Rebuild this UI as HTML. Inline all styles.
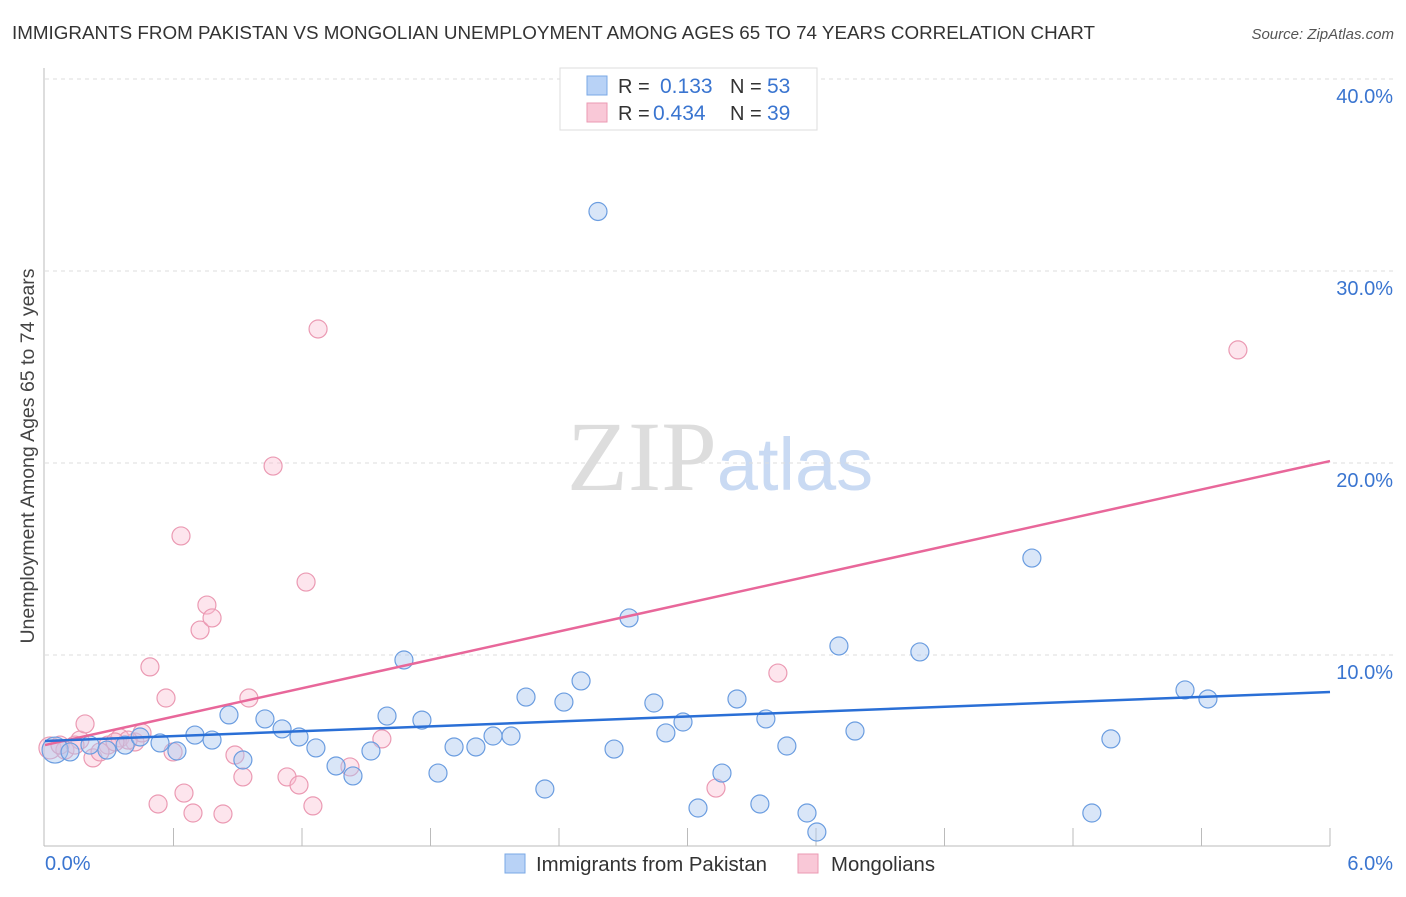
<!DOCTYPE html>
<html><head><meta charset="utf-8"><style>
body{margin:0;background:#fff;font-family:"Liberation Sans",sans-serif;}
svg text{font-family:"Liberation Sans",sans-serif;}
</style></head><body>
<svg id="chart" width="1406" height="892" xmlns="http://www.w3.org/2000/svg">
<text x="12" y="39" font-size="18" fill="#333" textLength="1083" lengthAdjust="spacingAndGlyphs">IMMIGRANTS FROM PAKISTAN VS MONGOLIAN UNEMPLOYMENT AMONG AGES 65 TO 74 YEARS CORRELATION CHART</text>
<text x="1394" y="39" font-size="15" fill="#555" font-style="italic" text-anchor="end">Source: ZipAtlas.com</text>
<text x="720" y="490" font-size="100" text-anchor="middle"><tspan font-family="Liberation Serif" fill="#ddd">ZIP</tspan><tspan fill="#c9daf3" font-size="74">atlas</tspan></text>
<text transform="translate(34,456) rotate(-90)" font-size="19.5" fill="#444" text-anchor="middle">Unemployment Among Ages 65 to 74 years</text>
<g id="grid"></g><g id="axes"></g><g id="marks"></g>
<g>
<rect x="560" y="68" width="257" height="62" fill="#fff" stroke="#ddd"/>
<rect x="587" y="76" width="20" height="19" fill="#b8d2f6" stroke="#7aa8e6"/>
<text x="618" y="93" font-size="20" fill="#333">R = </text><text x="660" y="93" font-size="21" fill="#3a75d0">0.133</text>
<text x="730" y="93" font-size="20" fill="#333">N = </text><text x="767" y="93" font-size="21" fill="#3a75d0">53</text>
<rect x="587" y="103" width="20" height="19" fill="#f9c8d7" stroke="#eb9ab3"/>
<text x="618" y="120" font-size="20" fill="#333">R = </text><text x="653" y="120" font-size="21" fill="#3a75d0">0.434</text>
<text x="730" y="120" font-size="20" fill="#333">N = </text><text x="767" y="120" font-size="21" fill="#3a75d0">39</text>
</g>
<g>
<rect x="505" y="854" width="20" height="19" fill="#b8d2f6" stroke="#7aa8e6"/>
<text x="536" y="871" font-size="20" fill="#333" textLength="231" lengthAdjust="spacingAndGlyphs">Immigrants from Pakistan</text>
<rect x="798" y="854" width="20" height="19" fill="#f9c8d7" stroke="#eb9ab3"/>
<text x="831" y="871" font-size="20" fill="#333" textLength="104" lengthAdjust="spacingAndGlyphs">Mongolians</text>
</g>
</svg>
<script>
const blueX=[0.047,0.117,0.21,0.289,0.374,0.444,0.537,0.616,0.70,0.78,0.859,0.924,1.027,1.107,1.186,1.265,1.359,1.438,1.522,1.597,1.676,1.760,1.835,1.910,2.012,2.092,2.176,2.246,2.334,2.423,2.503,2.582,2.657,2.727,2.843,2.899,2.979,3.049,3.161,3.231,3.338,3.366,3.464,3.558,3.604,3.707,3.782,4.085,4.608,4.888,4.977,5.323,5.430];
const blueY=[5.05,4.95,5.31,5.05,5.31,5.73,5.42,5.0,5.83,5.57,6.88,4.53,6.67,6.15,5.73,5.16,4.22,3.70,5.0,6.82,9.74,6.61,3.85,5.21,5.21,5.78,5.78,7.81,3.02,7.55,8.65,33.1,5.10,11.93,7.5,5.94,6.51,2.03,3.85,7.71,2.24,6.67,5.26,1.77,0.78,10.47,6.04,10.16,15.05,1.77,5.63,8.18,7.71];
const pinkX=[0.023,0.093,0.163,0.187,0.224,0.294,0.350,0.420,0.453,0.490,0.528,0.565,0.598,0.635,0.649,0.691,0.724,0.756,0.780,0.831,0.887,0.924,0.952,1.065,1.130,1.186,1.219,1.251,1.275,1.424,1.573,3.422,3.133,5.570,0.257,0.070,0.388,0.140,0.327];
const pinkY=[5.16,5.05,5.57,6.41,4.64,5.31,5.68,5.47,5.94,9.38,2.24,7.76,4.95,16.2,2.81,1.77,11.3,12.6,11.93,1.72,4.79,3.65,7.76,19.84,3.65,3.23,13.8,2.14,26.98,4.17,5.63,9.06,3.07,25.89,4.95,5.31,5.57,5.31,5.47];
const blueTrend=[5.52,8.07];
const pinkTrend=[5.31,20.1];
const yTicks=[10,20,30,40];
const yTickLabels=["10.0%","20.0%","30.0%","40.0%"];
const xTickLabels=["0.0%","6.0%"];
const NS="http://www.w3.org/2000/svg";
const sx=v=>45+v/6*1285, sy=v=>847-v*19.2;
function mk(t,a,p){const e=document.createElementNS(NS,t);for(const k in a)e.setAttribute(k,a[k]);p.appendChild(e);return e;}
const grid=document.getElementById('grid'),axes=document.getElementById('axes'),marks=document.getElementById('marks');
yTicks.forEach((t,i)=>{
 const l=mk('line',{x1:45,x2:1393,y1:sy(t),y2:sy(t),stroke:'#ddd','stroke-dasharray':'4,4'},grid);
 
 
 const tx=mk('text',{x:1393,y:sy(t)+24,'font-size':20,fill:'#3a75d0','text-anchor':'end'},axes);
 tx.textContent=yTickLabels[i];
 
 
});
const ya=mk('line',{x1:44,x2:44,y1:68,y2:846,stroke:'#bbb'},axes);


const xa=mk('line',{x1:44,x2:1330,y1:846,y2:846,stroke:'#bbb'},axes);


for(let i=1;i<=10;i++){const tk=mk('line',{x1:sx(i*0.6),x2:sx(i*0.6),y1:828,y2:846,stroke:'#bbb'},axes);
 
 }
const xl0=mk('text',{x:45,y:870,'font-size':20,fill:'#3a75d0'},axes);xl0.textContent=xTickLabels[0];


const xl1=mk('text',{x:1393,y:870,'font-size':20,fill:'#3a75d0','text-anchor':'end'},axes);xl1.textContent=xTickLabels[1];


pinkX.forEach((x,i)=>{const c=mk('circle',{cx:sx(x),cy:sy(pinkY[i]),r:i==0?11:9,fill:'rgba(249,190,210,0.4)',stroke:'#eb9ab3','stroke-width':1.2},marks);
 
 });
blueX.forEach((x,i)=>{const c=mk('circle',{cx:sx(x),cy:sy(blueY[i]),r:i==0?13:9,fill:'rgba(170,200,240,0.45)',stroke:'#6b9de0','stroke-width':1.2},marks);
 
 });
const pl=mk('line',{x1:sx(0),y1:sy(pinkTrend[0]),x2:sx(6),y2:sy(pinkTrend[1]),stroke:'#e8679a','stroke-width':2.5},marks);


const bl=mk('line',{x1:sx(0),y1:sy(blueTrend[0]),x2:sx(6),y2:sy(blueTrend[1]),stroke:'#2a6fd6','stroke-width':2.5},marks);


</script>
</body></html>
